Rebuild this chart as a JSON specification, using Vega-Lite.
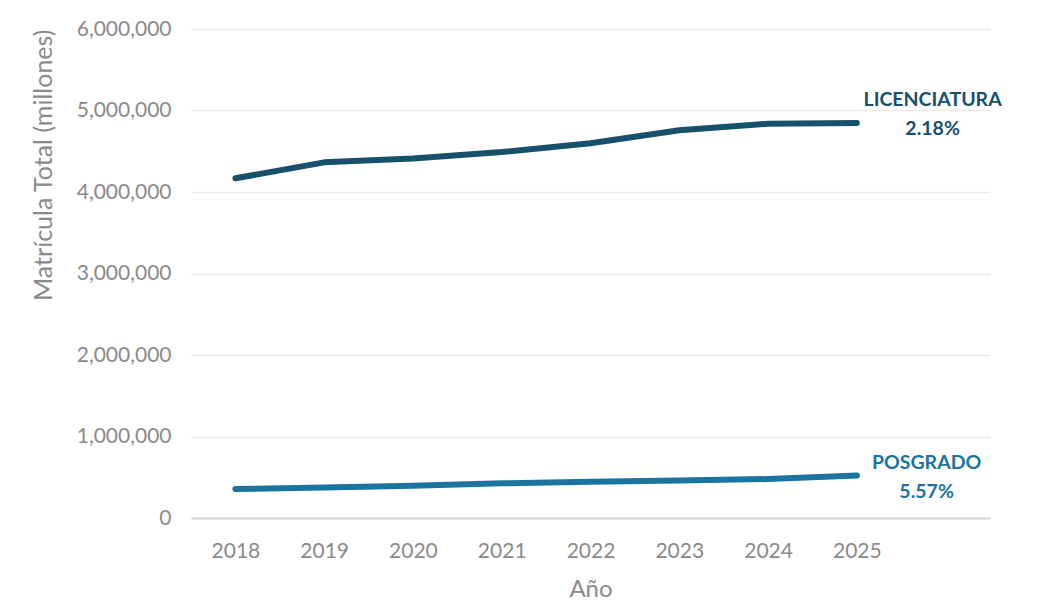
{
  "$schema": "https://vega.github.io/schema/vega-lite/v6.json",
  "autosize": {"type": "none"},
  "width": 799,
  "height": 489,
  "padding": {"left": 191, "top": 29, "right": 74, "bottom": 95},
  "background": "white",
  "config": {
    "view": {"stroke": null},
    "font": "Lato",
    "axis": {
      "labelFont": "Lato",
      "titleFont": "Lato",
      "labelColor": "#8a8a8a",
      "titleColor": "#8a8a8a",
      "labelFontSize": 21,
      "titleFontSize": 24,
      "titleFontWeight": "normal"
    }
  },
  "datasets": {
    "matricula": [
      {"anio": 2018, "nivel": "Licenciatura", "total": 4168000},
      {"anio": 2019, "nivel": "Licenciatura", "total": 4364000},
      {"anio": 2020, "nivel": "Licenciatura", "total": 4410000},
      {"anio": 2021, "nivel": "Licenciatura", "total": 4490000},
      {"anio": 2022, "nivel": "Licenciatura", "total": 4598000},
      {"anio": 2023, "nivel": "Licenciatura", "total": 4758000},
      {"anio": 2024, "nivel": "Licenciatura", "total": 4838000},
      {"anio": 2025, "nivel": "Licenciatura", "total": 4847000},
      {"anio": 2018, "nivel": "Posgrado", "total": 356000},
      {"anio": 2019, "nivel": "Posgrado", "total": 375000},
      {"anio": 2020, "nivel": "Posgrado", "total": 395000},
      {"anio": 2021, "nivel": "Posgrado", "total": 425000},
      {"anio": 2022, "nivel": "Posgrado", "total": 445000},
      {"anio": 2023, "nivel": "Posgrado", "total": 460000},
      {"anio": 2024, "nivel": "Posgrado", "total": 478000},
      {"anio": 2025, "nivel": "Posgrado", "total": 520000}
    ],
    "etiquetas": [
      {"nivel": "Licenciatura", "anio": 2026, "total": 4847000, "texto": "LICENCIATURA\n2.18%"},
      {"nivel": "Posgrado", "anio": 2026, "total": 520000, "texto": "POSGRADO\n5.57%"}
    ]
  },
  "layer": [
    {
      "data": {"name": "matricula"},
      "mark": {"type": "line", "strokeWidth": 6, "strokeCap": "round", "strokeJoin": "round", "interpolate": "linear"},
      "encoding": {
        "x": {
          "field": "anio",
          "type": "quantitative",
          "scale": {"domain": [2017.5, 2026.5], "nice": false, "zero": false},
          "axis": {
            "title": "Año",
            "values": [2018, 2019, 2020, 2021, 2022, 2023, 2024, 2025],
            "format": "d",
            "grid": false,
            "ticks": false,
            "domainColor": "#d6d6d6",
            "domainWidth": 2,
            "labelPadding": 22,
            "titlePadding": 16
          }
        },
        "y": {
          "field": "total",
          "type": "quantitative",
          "scale": {"domain": [0, 6000000], "nice": false},
          "axis": {
            "title": "Matrícula Total (millones)",
            "titleFontSize": 25,
            "values": [0, 1000000, 2000000, 3000000, 4000000, 5000000, 6000000],
            "format": ",.0f",
            "domain": false,
            "ticks": false,
            "gridColor": "#ebebeb",
            "gridWidth": 1.5,
            "labelPadding": 20,
            "titlePadding": 20,
            "titleAnchor": "end"
          }
        },
        "color": {
          "field": "nivel",
          "type": "nominal",
          "scale": {"domain": ["Licenciatura", "Posgrado"], "range": ["#17506b", "#1b74a0"]},
          "legend": null
        }
      }
    },
    {
      "data": {"name": "etiquetas"},
      "transform": [{"filter": "datum.nivel === 'Licenciatura'"}],
      "mark": {"type": "text", "font": "Lato", "fontWeight": "bold", "fontSize": 19.5, "lineBreak": "\n", "lineHeight": 29, "align": "center", "baseline": "middle", "dx": -13, "dy": -23},
      "encoding": {
        "x": {"field": "anio", "type": "quantitative"},
        "y": {"field": "total", "type": "quantitative"},
        "text": {"field": "texto"},
        "color": {"value": "#17506b"}
      }
    },
    {
      "data": {"name": "etiquetas"},
      "transform": [{"filter": "datum.nivel === 'Posgrado'"}],
      "mark": {"type": "text", "font": "Lato", "fontWeight": "bold", "fontSize": 19.5, "lineBreak": "\n", "lineHeight": 29, "align": "center", "baseline": "middle", "dx": -19, "dy": -13},
      "encoding": {
        "x": {"field": "anio", "type": "quantitative"},
        "y": {"field": "total", "type": "quantitative"},
        "text": {"field": "texto"},
        "color": {"value": "#1b74a0"}
      }
    }
  ]
}
